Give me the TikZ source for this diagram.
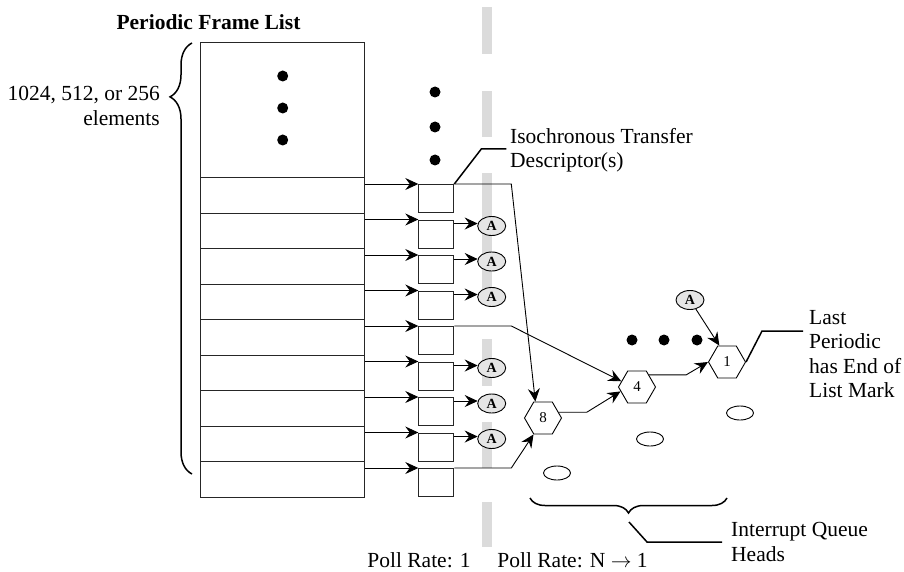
\documentclass[tikz,border=0pt]{standalone}
\usepackage{fontspec}
\setmainfont{Liberation Serif}
\usetikzlibrary{arrows.meta,shapes.geometric,decorations.pathreplacing,calc}
\begin{document}
\begin{tikzpicture}[x=1pt,y=-1pt,
  txt/.style={font=\fontsize{21.5}{24.5}\selectfont, inner sep=0pt},
  row/.style={draw=black!85, line width=1pt, minimum width=164pt, minimum height=35.5pt, inner sep=0pt, anchor=north west},
  td/.style={draw=black!85, line width=1pt, minimum width=35pt, minimum height=28pt, inner sep=0pt, anchor=north west},
  anode/.style={ellipse, draw, line width=0.9pt, fill=black!10, minimum width=28pt, minimum height=19pt, inner sep=0pt, font=\fontsize{14}{14}\selectfont\bfseries},
  qh/.style={regular polygon, regular polygon sides=6, draw, line width=0.9pt, minimum size=37pt, inner sep=0pt, font=\fontsize{15}{15}\selectfont},
  emptyq/.style={ellipse, draw, line width=0.9pt, minimum width=27pt, minimum height=14pt, inner sep=0pt},
  arr/.style={line width=0.9pt, -{Stealth[length=13pt,width=12pt,inset=4.5pt]}},
  lead/.style={line width=1.5pt},
  bigdot/.style={circle, fill=black, minimum size=11pt, inner sep=0pt},
  bar/.style={fill=black!14, draw=none}
]
\useasboundingbox (0,0) rectangle (904,572);
% gray dashed divider
\fill[bar] (482,7) rectangle (492,54);
\fill[bar] (482,91) rectangle (492,137);
\fill[bar] (482,173) rectangle (492,305);
\fill[bar] (482,339) rectangle (492,386);
\fill[bar] (482,422) rectangle (492,468);
\fill[bar] (482,502) rectangle (492,547);

% frame list
\node[row, minimum height=135pt] (top) at (200,42) {};
\foreach \i in {1,...,9} {
  \node[row] (r\i) at (200,{177+(\i-1)*35.5}) {};
  \node[td] (b\i) at (418.3,{184+(\i-1)*35.5}) {};
  \draw[arr] (b\i.north west -| r\i.east) -- (b\i.north west);
}
\foreach \i in {2,3,4,6,7,8} {
  \node[anode] (a\i) at (491.7,{184+(\i-1)*35.5+6.5}) {A};
  \draw[arr] (a\i.170 -| b\i.east) -- (a\i.170);
}

% dots
\node[bigdot] (d1) at (282.7,76) {};
\node[bigdot] (d2) at (282.7,108) {};
\node[bigdot] (d3) at (282.7,140) {};
\node[bigdot] (e1) at (435,92) {};
\node[bigdot] (e2) at (435,127) {};
\node[bigdot] (e3) at (435,160) {};
\node[bigdot] (f1) at (632,340) {};
\node[bigdot] (f2) at (664,340) {};
\node[bigdot] (f3) at (697,340) {};

% queue heads
\node[qh] (h8) at (543,418) {8};
\node[qh] (h4) at (637,387) {4};
\node[qh] (h1) at (727,362) {1};
\node[anode] (a0) at (690,300) {A};
\node[emptyq] (q1) at (740,413) {};
\node[emptyq] (q2) at (650,439) {};
\node[emptyq] (q3) at (557,473) {};

\draw[arr] (b1.north east) -- ++(57,0) -- (h8.115);
\draw[arr] (b5.north east) -- ++(57,0) -- (h4.160);
\draw[arr] (b9.north east) -- ++(57,0) -- (h8.240);
\draw[arr] (h8.20) -- ++(28,0) -- (h4.195);
\draw[arr] (h4.45) -- ++(37,0) -- (h1.west);
\draw[arr] (a0) -- (h1.115);

% leaders
\draw[lead] (h1.east) -- ++(16,-31) -- ++(41,0);
\draw[lead] (b1.north east) -- ++(27,-35) -- ++(25,0);

% braces
\draw[line width=1.5pt, decorate, decoration={brace, amplitude=22pt, aspect=0.875}] (192,474) -- (192,43);
\draw[line width=1.5pt, decorate, decoration={brace, amplitude=15pt}] (727,498) -- (530,498);
\coordinate (bt) at (629,522);
\draw[lead] (bt) -- ++(18,20) -- ++(75,0);

% texts
\node[txt, font=\fontsize{21.5}{24.5}\selectfont\bfseries] (title) at (208.5,22) {Periodic Frame List};
\node[txt, align=right, anchor=east] (cnt) at (160,106) {1024, 512, or 256\\elements};
\node[txt, align=left, anchor=west] (itd) at (510,150) {Isochronous Transfer\\Descriptor(s)};
\node[txt, align=left, anchor=west] (lp) at (809,354) {Last\\Periodic\\has End of\\List Mark};
\node[txt, align=left, anchor=west] (iqh) at (731,542) {Interrupt Queue\\Heads};
\node[txt] (p1) at (419,560) {Poll Rate: 1};
\node[txt] (p2) at (572.5,560) {Poll Rate: N $\rightarrow$ 1};
\end{tikzpicture}
\end{document}
